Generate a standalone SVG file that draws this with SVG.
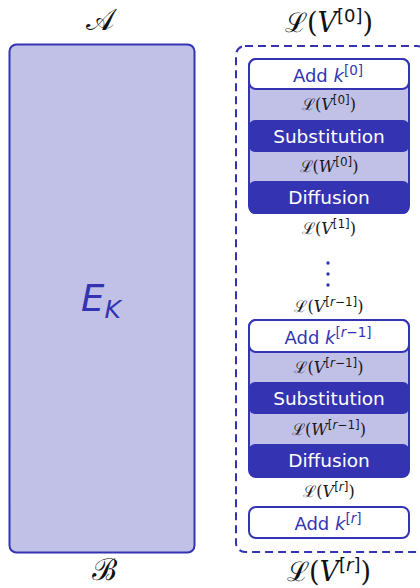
<svg xmlns="http://www.w3.org/2000/svg" width="420" height="588" viewBox="0 0 420 588">
<style>
.dk{fill:#3434b2}
.lt{fill:#c1c1e8}
.st{stroke:#3434b2;stroke-width:2}
.t{font-family:"DejaVu Sans","Liberation Sans",sans-serif;text-anchor:middle}
.m{font-family:"DejaVu Serif","Liberation Serif",serif}
.lab{font-size:16px;fill:#1a1a1a}
.big{font-size:27px;fill:#111}
.w{fill:#fff;font-size:18.5px}
.b{fill:#3434b2;font-size:18px}
</style>
<rect width="420" height="588" fill="#fff"/>
<g id="labels">
<text class="t" x="100" y="30" font-size="30" fill="#111"><tspan class="m">𝒜</tspan></text>
<text class="t big" x="329" y="32"><tspan class="m">ℒ(</tspan><tspan class="m" font-style="italic">V</tspan><tspan font-size="18" dy="-10">[0]</tspan><tspan class="m" dy="10">)</tspan></text>
<text class="t" x="104" y="580" font-size="30" fill="#111"><tspan class="m">ℬ</tspan></text>
<text class="t big" x="329" y="581"><tspan class="m">ℒ(</tspan><tspan class="m" font-style="italic">V</tspan><tspan font-size="18" dy="-10">[<tspan font-style="italic">r</tspan>]</tspan><tspan class="m" dy="10">)</tspan></text>
</g>
<g id="EK">
<rect x="9.5" y="44.5" width="185" height="508" rx="7" class="lt st"/>
<text class="t" x="101" y="311" font-size="37" fill="#3434b2" font-style="italic">E<tspan font-size="25" dy="7">K</tspan></text>
</g>
<g id="rounds">
<rect x="236" y="46" width="190" height="506" rx="9" fill="none" stroke="#3434b2" stroke-width="2" stroke-dasharray="8 5"/>
</g>
<g id="round0">
<rect x="249" y="59" width="160" height="154" rx="7" class="lt st"/>
<rect x="249" y="120" width="160" height="32" rx="6" class="dk"/>
<rect x="249" y="181" width="160" height="33" rx="6" class="dk"/>
<rect x="249" y="59" width="160" height="30" rx="7" fill="#fff" class="st"/>
<text class="t b" x="328" y="82">Add <tspan font-style="italic">k</tspan><tspan font-size="13.5" dy="-7">[0]</tspan></text>
<text class="t lab" x="329" y="110"><tspan class="m">ℒ(</tspan><tspan class="m" font-style="italic">V</tspan><tspan font-size="12" dy="-6">[0]</tspan><tspan class="m" dy="6">)</tspan></text>
<text class="t w" x="329" y="143">Substitution</text>
<text class="t lab" x="329" y="172"><tspan class="m">ℒ(</tspan><tspan class="m" font-style="italic">W</tspan><tspan font-size="12" dy="-6">[0]</tspan><tspan class="m" dy="6">)</tspan></text>
<text class="t w" x="329" y="204">Diffusion</text>
</g>
<g id="mid">
<text class="t lab" x="329" y="234"><tspan class="m">ℒ(</tspan><tspan class="m" font-style="italic">V</tspan><tspan font-size="12" dy="-6">[1]</tspan><tspan class="m" dy="6">)</tspan></text>
<circle cx="328" cy="263" r="1.7" class="dk"/>
<circle cx="328" cy="274" r="1.7" class="dk"/>
<circle cx="328" cy="285" r="1.7" class="dk"/>
<text class="t lab" x="329" y="312"><tspan class="m">ℒ(</tspan><tspan class="m" font-style="italic">V</tspan><tspan font-size="12" dy="-6">[<tspan font-style="italic">r</tspan>−1]</tspan><tspan class="m" dy="6">)</tspan></text>
</g>
<g id="roundr1">
<rect x="249" y="320" width="160" height="157" rx="7" class="lt st"/>
<rect x="249" y="382" width="160" height="32" rx="6" class="dk"/>
<rect x="249" y="444" width="160" height="33" rx="6" class="dk"/>
<rect x="249" y="320" width="160" height="32" rx="7" fill="#fff" class="st"/>
<text class="t b" x="328" y="344">Add <tspan font-style="italic">k</tspan><tspan font-size="13.5" dy="-7">[<tspan font-style="italic">r</tspan>−1]</tspan></text>
<text class="t lab" x="329" y="373"><tspan class="m">ℒ(</tspan><tspan class="m" font-style="italic">V</tspan><tspan font-size="12" dy="-6">[<tspan font-style="italic">r</tspan>−1]</tspan><tspan class="m" dy="6">)</tspan></text>
<text class="t w" x="329" y="405">Substitution</text>
<text class="t lab" x="329" y="435"><tspan class="m">ℒ(</tspan><tspan class="m" font-style="italic">W</tspan><tspan font-size="12" dy="-6">[<tspan font-style="italic">r</tspan>−1]</tspan><tspan class="m" dy="6">)</tspan></text>
<text class="t w" x="329" y="467">Diffusion</text>
</g>
<g id="final">
<text class="t lab" x="329" y="497"><tspan class="m">ℒ(</tspan><tspan class="m" font-style="italic">V</tspan><tspan font-size="12" dy="-6">[<tspan font-style="italic">r</tspan>]</tspan><tspan class="m" dy="6">)</tspan></text>
<rect x="249" y="507" width="160" height="31" rx="7" fill="#fff" class="st"/>
<text class="t b" x="328" y="530">Add <tspan font-style="italic">k</tspan><tspan font-size="13.5" dy="-7">[<tspan font-style="italic">r</tspan>]</tspan></text>
</g>
</svg>
